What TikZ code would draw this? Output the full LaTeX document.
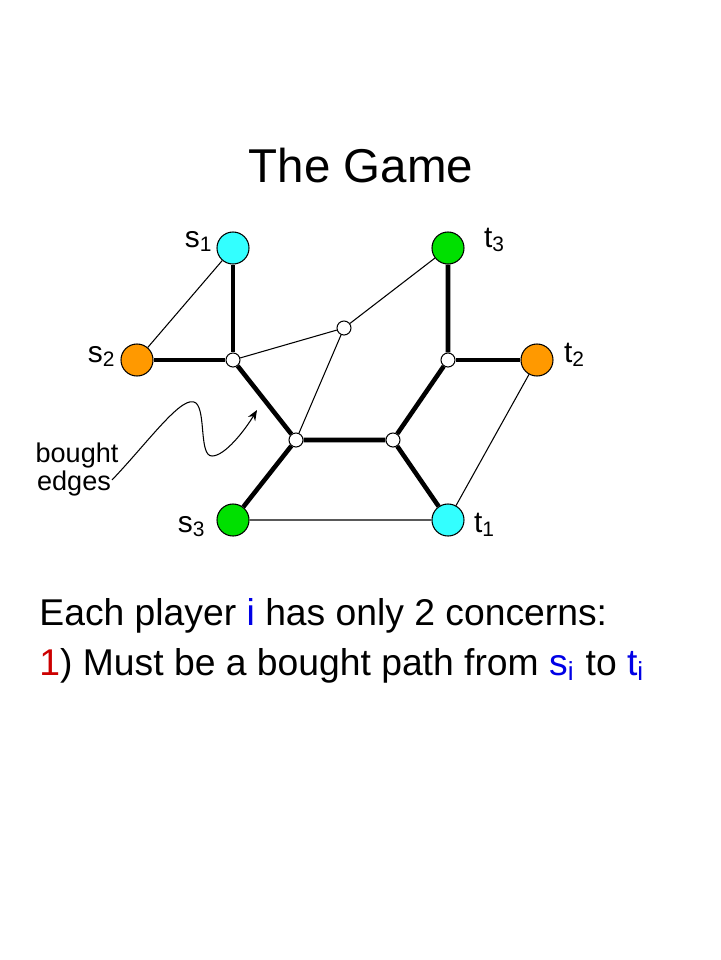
\documentclass[tikz,border=0pt]{standalone}
\usepackage{fontspec}
\setmainfont{Liberation Sans}
\usetikzlibrary{arrows.meta}

\definecolor{scyan}{RGB}{51,255,255}
\definecolor{sgreen}{RGB}{0,224,0}
\definecolor{sorange}{RGB}{255,153,0}
\definecolor{tblue}{RGB}{0,0,230}
\definecolor{tred}{RGB}{204,0,0}

\begin{document}
\begin{tikzpicture}[x=0.01cm,y=-0.01cm,
    term/.style={circle,draw=black,line width=0.3pt,minimum size=0.32cm,inner sep=0pt},
    junc/.style={circle,draw=black,fill=white,line width=0.3pt,minimum size=0.14cm,inner sep=0pt},
    bought/.style={line width=1.3pt},
    free/.style={line width=0.3pt},
    lbl/.style={anchor=base,font=\fontsize{8.5}{10}\selectfont}]
            \useasboundingbox (0,0) rectangle (720,960);

            % Title
            \node[anchor=base,font=\fontsize{13.5}{16}\selectfont] (title) at (361,182) {The Game};

            % Place the terminals
            \node[term,fill=scyan] (s1) at (233,248) {};
            \node[term,fill=sgreen] (t3) at (448,248) {};
            \node[term,fill=sorange] (s2) at (137,360) {};
            \node[term,fill=sorange] (t2) at (537,360) {};
            \node[term,fill=sgreen] (s3) at (233,520) {};
            \node[term,fill=scyan] (t1) at (448,520) {};
            \node[lbl] (ls1) at (199,247) {s\textsubscript{1}};
            \node[lbl] (lt3) at (495,247) {t\textsubscript{3}};
            \node[lbl] (ls2) at (102,362) {s\textsubscript{2}};
            \node[lbl] (lt2) at (575,362) {t\textsubscript{2}};
            \node[lbl] (ls3) at (192,532) {s\textsubscript{3}};
            \node[lbl] (lt1) at (485,532) {t\textsubscript{1}};

            % Place the other nodes
            \node[junc] (x0) at (233,360) {};
            \node[junc] (x1) at (344,328) {};
            \node[junc] (x2) at (448,360) {};
            \node[junc] (x3) at (296,440) {};
            \node[junc] (x4) at (393,440) {};

            % The lines!
            \draw[free] (s2) -- (s1);
            \draw[free] (x0) -- (x1) -- (t3);
            \draw[free] (x1) -- (x3);
            \draw[free] (s3) -- (t1) -- (t2);
            \draw[bought] (s1) -- (x0) -- (s2);
            \draw[bought] (x0) -- (x3) -- (x4) -- (t1);
            \draw[bought] (x3) -- (s3);
            \draw[bought] (x4) -- (x2) -- (t3);
            \draw[bought] (x2) -- (t2);

            % The arrow
            \node[font=\fontsize{7.7}{9}\selectfont,anchor=base] (bt) at (77,462) {bought};
            \node[font=\fontsize{7.7}{9}\selectfont,anchor=base] (ed) at (74,490) {edges};
            \coordinate (a0) at (112,480);
            \coordinate (a1) at (257,410);
            \draw[free,-{Stealth[length=3pt,width=2.4pt]}] (a0) .. controls (150,440) and (183,393) .. (196,403)
                .. controls (206,412) and (199,456) .. (212,456)
                .. controls (225,456) and (245,430) .. (a1);

            % The text
            \node[anchor=base west,font=\fontsize{10.6}{13}\selectfont] (line1) at (27,625)
                {Each player \textcolor{tblue}{i} has only 2 concerns:};
            \node[anchor=base west,font=\fontsize{10.6}{13}\selectfont] (line2) at (27,675)
                {\textcolor{tred}{1}) Must be a bought path from \textcolor{tblue}{s\textsubscript{i}} to \textcolor{tblue}{t\textsubscript{i}}};
        \end{tikzpicture}
\end{document}
